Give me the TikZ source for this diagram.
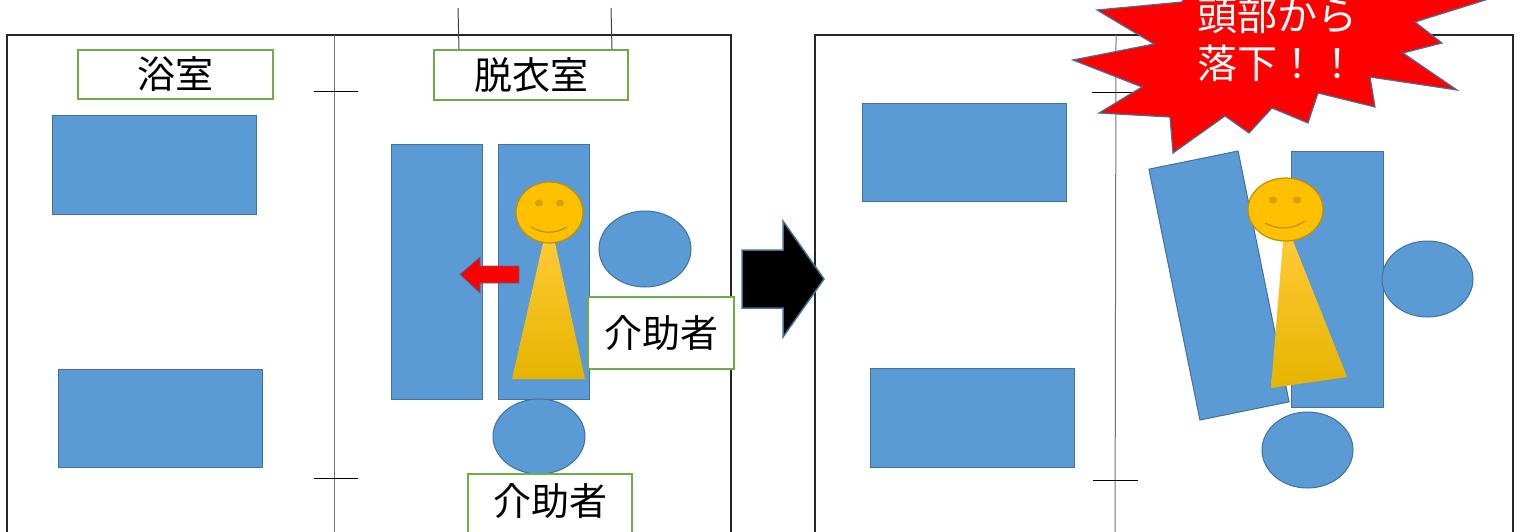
\documentclass[tikz,border=0pt]{standalone}
\usepackage{fontspec}
\newfontfamily\jpfont{Noto Sans CJK JP}
\definecolor{FurnBlue}{RGB}{91,155,213}
\definecolor{FurnEdge}{RGB}{65,113,156}
\definecolor{TagGreen}{RGB}{112,173,71}
\definecolor{SkinYel}{RGB}{255,192,0}
\definecolor{SkinEdge}{RGB}{191,144,0}
\definecolor{EyeYel}{RGB}{214,160,0}
\definecolor{BodyTop}{RGB}{255,202,52}
\definecolor{BodyBot}{RGB}{229,180,0}
\usetikzlibrary{shapes}

\begin{document}
\begin{tikzpicture}[x=1pt,y=-1pt]
		\tikzstyle{furn}=[draw=FurnEdge, fill=FurnBlue, line width=1pt, inner sep=0pt]
		\tikzstyle{seat}=[furn, ellipse]
		\tikzstyle{tag}=[draw=TagGreen, fill=white, line width=1.5pt, inner sep=0pt, font=\jpfont\fontsize{38}{44}\selectfont]
		\tikzstyle{wall}=[draw=black!85, line width=1.8pt]
		\tikzstyle{part}=[draw=black!55, line width=1pt]
		\tikzstyle{tick}=[draw=black, line width=1pt]
		\tikzstyle{face}=[draw=SkinEdge, fill=SkinYel, ellipse, line width=1.2pt, inner sep=0pt]
		\tikzstyle{body}=[top color=BodyTop, middle color=SkinYel, bottom color=BodyBot]
		\useasboundingbox (0,0) rectangle (1525,531);
		\clip (0,0) rectangle (1525,531);
		% rooms
		\draw[wall] (7,35) rectangle (731,560);
		\draw[wall] (815,35) rectangle (1513,560);
		\draw[part] (334,35) -- (334,560);
		\draw[part] (1116,35) -- (1115,560);
		\draw[tick] (314,91) -- (358,91);
		\draw[tick] (314,478) -- (358,478);
		\draw[tick] (1092,92) -- (1138,92);
		\draw[tick] (1093,480) -- (1138,480);
		% before
		\node [furn, minimum width=204pt, minimum height=99pt] (bathA) at (154,164.5) {};
		\node [furn, minimum width=204pt, minimum height=98pt] (bathB) at (160,418) {};
		\node [furn, minimum width=91pt, minimum height=255pt] (bedL) at (436.5,271.5) {};
		\node [furn, minimum width=91pt, minimum height=255pt] (bedR) at (543.5,271.5) {};
		\node [seat, minimum width=92pt, minimum height=76pt] (seatR) at (645,249) {};
		\node [seat, minimum width=92pt, minimum height=75pt] (seatB) at (539,436.5) {};
		\shade[body] (543,243) -- (555,243) -- (585,379) -- (512,379) -- cycle;
		\node [face, minimum width=67pt, minimum height=61pt] (head) at (549.5,212.5) {};
		\fill[EyeYel] (539,203) ellipse [x radius=4pt, y radius=3.5pt];
		\fill[EyeYel] (560,203) ellipse [x radius=4pt, y radius=3.5pt];
		\draw[SkinEdge, line width=1.2pt] (531,227) .. controls (543,234) and (555,234) .. (567,227);
		\filldraw[fill=red, draw=FurnEdge, line width=0.8pt] (519,266) -- (480,266) -- (480,257) -- (460,274.5) -- (480,293) -- (480,283) -- (519,283) -- cycle;
		\node [tag, minimum width=195pt, minimum height=49pt] (bath) at (175.5,74.5) {浴室};
		\node [tag, minimum width=194pt, minimum height=50pt] (dress) at (531,75) {脱衣室};
		\node [tag, minimum width=146pt, minimum height=72pt] (helperR) at (661,333) {介助者};
		\node [tag, minimum width=164pt, text height=31pt, text depth=21pt, inner ysep=10pt] (helperB) at (550,510) {介助者};
		\coordinate (wireL) at (458,8);
		\coordinate (wireR) at (611,8);
		\draw[black!75, line width=1pt] (wireL) -- ([xshift=1pt]wireL |- dress.north);
		\draw[black!75, line width=1pt] (wireR) -- ([xshift=1pt]wireR |- dress.north);
		% then
		\filldraw[fill=black, draw=FurnEdge, line width=1.5pt] (742,250) -- (783,250) -- (783,221) -- (824,279) -- (783,337) -- (783,308) -- (742,308) -- cycle;
		% after
		\node [furn, minimum width=204pt, minimum height=98pt] (bathC) at (964,152) {};
		\node [furn, minimum width=204pt, minimum height=99pt] (bathD) at (972,417.5) {};
		\node [furn, minimum width=92pt, minimum height=256pt] (bedS) at (1337,279) {};
		\node [furn, rotate=11.5, minimum width=91pt, minimum height=256pt] (bedT) at (1219,285.5) {};
		\node [seat, minimum width=91pt, minimum height=76pt] (seatS) at (1427.5,279) {};
		\node [seat, minimum width=91pt, minimum height=76pt] (seatT) at (1307.5,450) {};
		\shade[body] (1283,241) -- (1293,241) -- (1347,377) -- (1271,388) -- cycle;
		\node [face, minimum width=75pt, minimum height=63pt] (headT) at (1285.5,209.5) {};
		\fill[EyeYel] (1273,200) ellipse [x radius=4.2pt, y radius=3.5pt];
		\fill[EyeYel] (1297,200) ellipse [x radius=4.2pt, y radius=3.5pt];
		\draw[SkinEdge, line width=1.2pt] (1265,223) .. controls (1278,230) and (1292,230) .. (1305,221);
		% fall
		\filldraw[fill=red, draw=FurnEdge, line width=1.2pt] (1205,-40) -- (1182,2) -- (1097,10) -- (1154,44) -- (1073,60) -- (1142,87) -- (1099,113) -- (1170,117) -- (1173,153) -- (1225,116) -- (1249,133) -- (1272,108) -- (1308,123) -- (1318,93) -- (1375,107) -- (1370,77) -- (1457,90) -- (1403,53) -- (1442,43) -- (1415,22) -- (1495,-3) -- (1420,-40) -- cycle;
		\node [font=\jpfont\fontsize{40}{48}\selectfont, text=white, align=center, inner sep=0pt] (shout) at (1277,39) {頭部から\\落下！！};
	\end{tikzpicture}
\end{document}
